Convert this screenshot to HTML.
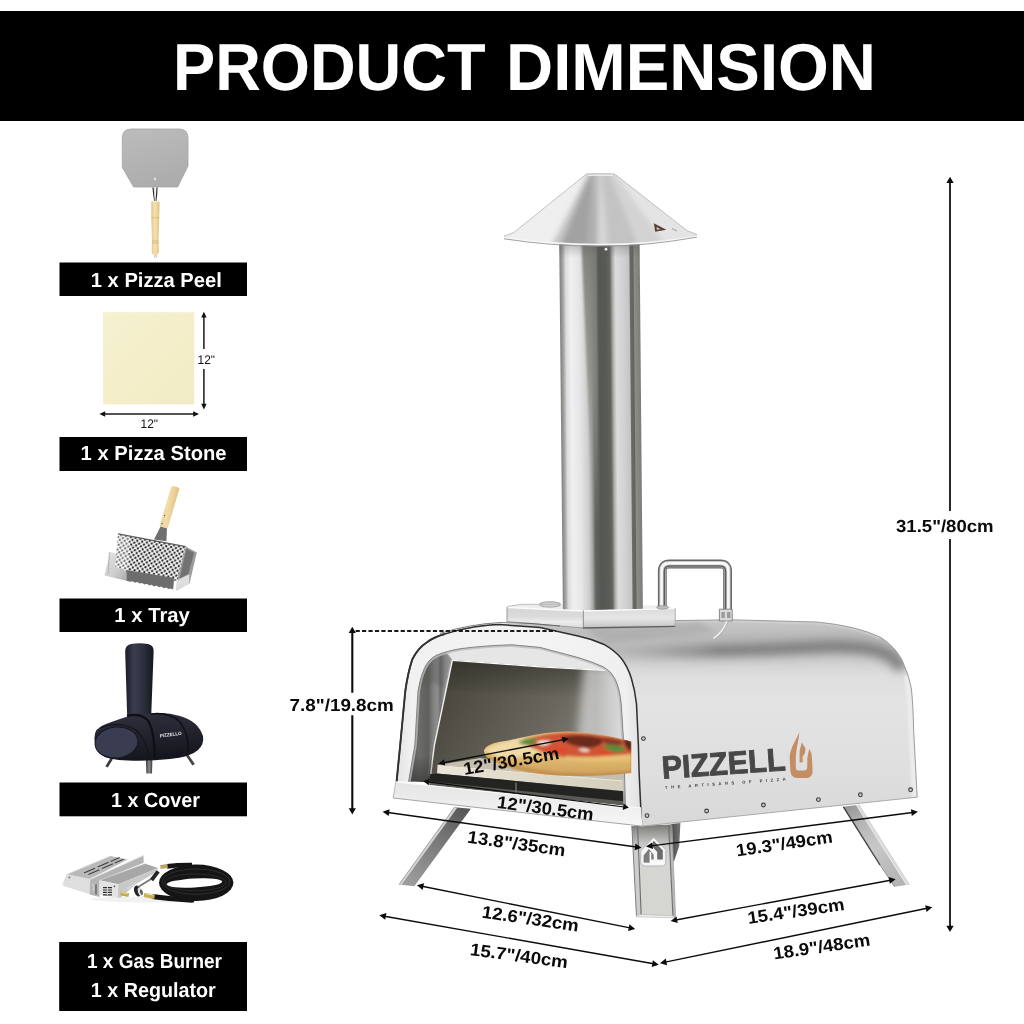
<!DOCTYPE html>
<html lang="en"><head><meta charset="utf-8"><title>Product Dimension</title>
<style>
html,body{margin:0;padding:0;background:#fff;width:1024px;height:1024px;overflow:hidden}
svg{display:block;position:absolute;left:0;top:0;will-change:transform}
text{font-family:"Liberation Sans",sans-serif;font-weight:bold;text-rendering:geometricPrecision}
.lbl{fill:#fff;font-size:20.5px;text-anchor:middle}
.dim{fill:#0a0a0a}
.thin{font-weight:normal;fill:#111;font-size:12.5px}
</style></head><body>
<svg width="1024" height="1024" viewBox="0 0 1024 1024">
<defs>
<linearGradient id="gPeel" x1="0" y1="0" x2="0.3" y2="1"><stop offset="0" stop-color="#bcbcbc"/><stop offset="1" stop-color="#adadad"/></linearGradient>
<linearGradient id="gWood" x1="0" y1="0" x2="1" y2="0"><stop offset="0" stop-color="#e4c78a"/><stop offset="0.45" stop-color="#f4e2b2"/><stop offset="1" stop-color="#e3c282"/></linearGradient>
<linearGradient id="gWood2" x1="0" y1="0" x2="1" y2="0.3"><stop offset="0" stop-color="#e2c283"/><stop offset="0.5" stop-color="#f2dcaa"/><stop offset="1" stop-color="#e0bd7c"/></linearGradient>
<linearGradient id="gStone" x1="0" y1="0" x2="1" y2="1"><stop offset="0" stop-color="#f6f1d0"/><stop offset="1" stop-color="#f2ebc4"/></linearGradient>
<pattern id="pDots" width="4.9" height="4.9" patternUnits="userSpaceOnUse" patternTransform="rotate(10.7) skewX(-4)"><circle cx="1.22" cy="1.22" r="1.12" fill="#151515"/><circle cx="3.67" cy="3.67" r="1.12" fill="#151515"/></pattern>
<linearGradient id="gCLeg" x1="0" y1="0" x2="1" y2="0"><stop offset="0" stop-color="#333"/><stop offset="0.5" stop-color="#8a8a8a"/><stop offset="1" stop-color="#3c3c3c"/></linearGradient>
<linearGradient id="gCov1" x1="0" y1="0" x2="1" y2="0"><stop offset="0" stop-color="#1b1c26"/><stop offset="0.3" stop-color="#3a3d4e"/><stop offset="0.7" stop-color="#2a2c3a"/><stop offset="1" stop-color="#14151c"/></linearGradient>
<linearGradient id="gCov2" x1="0" y1="0" x2="0.2" y2="1"><stop offset="0" stop-color="#30323f"/><stop offset="0.5" stop-color="#23242f"/><stop offset="1" stop-color="#15161d"/></linearGradient>
<linearGradient id="gTrayLip" x1="0" y1="0" x2="1" y2="1"><stop offset="0" stop-color="#e6e6e6"/><stop offset="0.6" stop-color="#cdcdcd"/><stop offset="1" stop-color="#ababab"/></linearGradient>
<linearGradient id="gCap" gradientUnits="userSpaceOnUse" x1="504" y1="0" x2="697" y2="0">
<stop offset="0" stop-color="#d4d4d4"/><stop offset="0.08" stop-color="#cdcdcd"/><stop offset="0.3" stop-color="#adadad"/><stop offset="0.41" stop-color="#b6b6b6"/><stop offset="0.5" stop-color="#ececec"/><stop offset="0.6" stop-color="#dedede"/><stop offset="0.75" stop-color="#cfcfcf"/><stop offset="1" stop-color="#dadada"/></linearGradient>
<linearGradient id="gCapV" x1="0" y1="0" x2="0" y2="1"><stop offset="0" stop-color="#fff" stop-opacity="0.25"/><stop offset="0.7" stop-color="#fff" stop-opacity="0"/><stop offset="1" stop-color="#fff" stop-opacity="0.45"/></linearGradient>
<linearGradient id="gBodyV" gradientUnits="userSpaceOnUse" x1="0" y1="620" x2="0" y2="826">
<stop offset="0" stop-color="#c6c6c6"/><stop offset="0.08" stop-color="#bcbcbc"/><stop offset="0.2" stop-color="#cfcfcf"/><stop offset="0.27" stop-color="#dedede"/><stop offset="0.4" stop-color="#e3e3e3"/><stop offset="0.75" stop-color="#dedede"/><stop offset="1" stop-color="#d8d8d8"/></linearGradient>
<linearGradient id="gBodyH" gradientUnits="userSpaceOnUse" x1="640" y1="0" x2="917" y2="0">
<stop offset="0" stop-color="#fff" stop-opacity="0.25"/><stop offset="0.3" stop-color="#fff" stop-opacity="0.1"/><stop offset="0.8" stop-color="#000" stop-opacity="0"/><stop offset="0.9" stop-color="#000" stop-opacity="0.1"/><stop offset="1" stop-color="#000" stop-opacity="0.16"/></linearGradient>
<linearGradient id="gBack" gradientUnits="userSpaceOnUse" x1="440" y1="665" x2="600" y2="760">
<stop offset="0" stop-color="#444238"/><stop offset="0.3" stop-color="#56544a"/><stop offset="0.65" stop-color="#6a685e"/><stop offset="1" stop-color="#858480"/></linearGradient>
<linearGradient id="gRWall" gradientUnits="userSpaceOnUse" x1="596" y1="0" x2="624" y2="0">
<stop offset="0" stop-color="#c8c8c8" stop-opacity="0"/><stop offset="0.5" stop-color="#cfcfcf" stop-opacity="0.9"/><stop offset="1" stop-color="#dddddd"/></linearGradient>
<linearGradient id="gLWall" gradientUnits="userSpaceOnUse" x1="412" y1="0" x2="448" y2="0">
<stop offset="0" stop-color="#626260"/><stop offset="0.2" stop-color="#6b6b69"/><stop offset="0.45" stop-color="#5f5e5a"/><stop offset="0.6" stop-color="#828281"/><stop offset="0.7" stop-color="#8e8e8e"/><stop offset="0.8" stop-color="#6c6c6a"/><stop offset="0.92" stop-color="#9c9c9c"/><stop offset="1" stop-color="#a8a8a8"/></linearGradient>
<linearGradient id="gArch" gradientUnits="userSpaceOnUse" x1="397" y1="0" x2="640" y2="0">
<stop offset="0" stop-color="#e4e4e4"/><stop offset="0.06" stop-color="#f1f1f1"/><stop offset="0.6" stop-color="#f4f4f4"/><stop offset="0.94" stop-color="#efefef"/><stop offset="1" stop-color="#e2e2e2"/></linearGradient>
<linearGradient id="gLeg" x1="0" y1="0" x2="1" y2="0"><stop offset="0" stop-color="#dcdcdc"/><stop offset="0.25" stop-color="#cfcfcf"/><stop offset="0.3" stop-color="#6d6d6d"/><stop offset="1" stop-color="#5e5e5e"/></linearGradient>
<linearGradient id="gLegR" gradientUnits="userSpaceOnUse" x1="850" y1="806" x2="900" y2="886"><stop offset="0" stop-color="#979797"/><stop offset="0.2" stop-color="#b4b4b4"/><stop offset="0.5" stop-color="#c8c8c8"/><stop offset="1" stop-color="#b2b2b2"/></linearGradient>
<linearGradient id="gLegL" gradientUnits="userSpaceOnUse" x1="462" y1="808" x2="407" y2="885"><stop offset="0" stop-color="#585858"/><stop offset="0.35" stop-color="#747474"/><stop offset="1" stop-color="#9e9e9e"/></linearGradient>
<linearGradient id="gLegC" gradientUnits="userSpaceOnUse" x1="632" y1="0" x2="676" y2="0"><stop offset="0" stop-color="#bdbdbd"/><stop offset="0.12" stop-color="#e3e3e3"/><stop offset="0.16" stop-color="#cfcfcf"/><stop offset="0.85" stop-color="#d4d4d4"/><stop offset="0.9" stop-color="#b0b0b0"/><stop offset="1" stop-color="#d9d9d9"/></linearGradient>
<linearGradient id="gCrust" x1="0" y1="0" x2="0" y2="1"><stop offset="0" stop-color="#e9c98a"/><stop offset="0.6" stop-color="#e0b870"/><stop offset="1" stop-color="#c99a55"/></linearGradient>
<linearGradient id="gPlate" gradientUnits="userSpaceOnUse" x1="507" y1="0" x2="676" y2="0"><stop offset="0" stop-color="#dedede"/><stop offset="0.44" stop-color="#f0f0f0"/><stop offset="0.455" stop-color="#bdbdbd"/><stop offset="0.47" stop-color="#e9e9e9"/><stop offset="1" stop-color="#dcdcdc"/></linearGradient>
<linearGradient id="gPipe" gradientUnits="userSpaceOnUse" x1="557.2" y1="0" x2="637.4" y2="0" gradientTransform="matrix(1 0 0.009 1 0 0)">
<stop offset="0" stop-color="#7f7f7b"/><stop offset="0.042" stop-color="#a8a8a6"/><stop offset="0.074" stop-color="#dcdcdc"/><stop offset="0.136" stop-color="#f0f0f0"/><stop offset="0.236" stop-color="#e6e6e6"/><stop offset="0.335" stop-color="#cdcdcd"/><stop offset="0.379" stop-color="#a5a5a3"/><stop offset="0.416" stop-color="#62645f"/><stop offset="0.485" stop-color="#555752"/><stop offset="0.572" stop-color="#585a55"/><stop offset="0.622" stop-color="#62645f"/><stop offset="0.66" stop-color="#b0b0ae"/><stop offset="0.697" stop-color="#dcdcdc"/><stop offset="0.784" stop-color="#d2d2d2"/><stop offset="0.865" stop-color="#c4c4c4"/><stop offset="0.878" stop-color="#6a6a66"/><stop offset="0.915" stop-color="#62625e"/><stop offset="0.928" stop-color="#8c8c88"/><stop offset="1" stop-color="#7c7c78"/></linearGradient>
<linearGradient id="gPipeL" x1="0" y1="0" x2="1" y2="0"><stop offset="0" stop-color="#8f8f8f"/><stop offset="0.35" stop-color="#a9a9a9" stop-opacity="0.8"/><stop offset="1" stop-color="#cfcfcf" stop-opacity="0"/></linearGradient>
<linearGradient id="gPipeR" x1="0" y1="0" x2="1" y2="0"><stop offset="0" stop-color="#d0d0d0" stop-opacity="0"/><stop offset="0.16" stop-color="#8a8a8a"/><stop offset="0.34" stop-color="#7e7e7e"/><stop offset="0.5" stop-color="#9c9c9c"/><stop offset="0.85" stop-color="#a2a2a2"/><stop offset="1" stop-color="#8a8a8a"/></linearGradient>
<linearGradient id="gPipeTop" x1="0" y1="0" x2="0" y2="1"><stop offset="0" stop-color="#555" stop-opacity="0.35"/><stop offset="1" stop-color="#555" stop-opacity="0"/></linearGradient>
<filter id="fBlur3" x="-10%" y="-10%" width="120%" height="120%"><feGaussianBlur stdDeviation="2.6"/></filter>
<filter id="fBlur2" x="-10%" y="-10%" width="120%" height="120%"><feGaussianBlur stdDeviation="1.6"/></filter>
<filter id="fBlur5" x="-20%" y="-20%" width="140%" height="140%"><feGaussianBlur stdDeviation="5"/></filter>
<linearGradient id="gPlateF" x1="0" y1="0" x2="0" y2="1"><stop offset="0" stop-color="#d6d6d6"/><stop offset="0.45" stop-color="#dadada"/><stop offset="0.7" stop-color="#ececec"/><stop offset="1" stop-color="#dcdcdc"/></linearGradient>
<linearGradient id="gPlateS" x1="0" y1="0" x2="0" y2="1"><stop offset="0" stop-color="#dadada"/><stop offset="0.5" stop-color="#e6e6e6"/><stop offset="0.8" stop-color="#d2d2d2"/><stop offset="1" stop-color="#bcbcbc"/></linearGradient>
<linearGradient id="gRail" x1="0" y1="0" x2="0" y2="1"><stop offset="0" stop-color="#e4e4e4"/><stop offset="0.5" stop-color="#eeeeee"/><stop offset="1" stop-color="#f6f6f6"/></linearGradient>
<linearGradient id="gLegShade" x1="0" y1="0" x2="0" y2="1"><stop offset="0" stop-color="#5f5f5f" stop-opacity="0.8"/><stop offset="0.5" stop-color="#808080" stop-opacity="0.45"/><stop offset="1" stop-color="#aaa" stop-opacity="0"/></linearGradient>
<linearGradient id="gLegBack" x1="0" y1="0" x2="1" y2="0"><stop offset="0" stop-color="#484848"/><stop offset="1" stop-color="#767676"/></linearGradient>
<linearGradient id="gPipeMid" gradientUnits="userSpaceOnUse" x1="0" y1="243" x2="0" y2="530"><stop offset="0" stop-color="#7c7e78" stop-opacity="0.95"/><stop offset="0.45" stop-color="#8c8e88" stop-opacity="0.8"/><stop offset="1" stop-color="#a0a29c" stop-opacity="0"/></linearGradient>
<filter id="fBlur1" x="-20%" y="-20%" width="140%" height="140%"><feGaussianBlur stdDeviation="1"/></filter>
<filter id="fBlur6" x="-20%" y="-100%" width="140%" height="300%"><feGaussianBlur stdDeviation="6"/></filter>
<filter id="fBlur8" x="-40%" y="-60%" width="180%" height="220%"><feGaussianBlur stdDeviation="8"/></filter>
<linearGradient id="gBackTop" gradientUnits="userSpaceOnUse" x1="0" y1="662" x2="0" y2="698"><stop offset="0" stop-color="#2a2923" stop-opacity="0.55"/><stop offset="1" stop-color="#2a2923" stop-opacity="0"/></linearGradient>
<filter id="fBodyBlur" filterUnits="userSpaceOnUse" x="600" y="590" width="340" height="140"><feGaussianBlur stdDeviation="5"/></filter>
<linearGradient id="gStoneF" gradientUnits="userSpaceOnUse" x1="437" y1="0" x2="625" y2="0"><stop offset="0" stop-color="#ebe7da"/><stop offset="0.4" stop-color="#e0dbcb"/><stop offset="1" stop-color="#d3cdbc"/></linearGradient>
<linearGradient id="gLWallBot" gradientUnits="userSpaceOnUse" x1="0" y1="755" x2="0" y2="782"><stop offset="0" stop-color="#2e2e2c" stop-opacity="0"/><stop offset="1" stop-color="#2e2e2c" stop-opacity="0.6"/></linearGradient>
<linearGradient id="gBandStroke" gradientUnits="userSpaceOnUse" x1="620" y1="0" x2="720" y2="0"><stop offset="0" stop-color="#a4a4a4" stop-opacity="0.5"/><stop offset="1" stop-color="#7c7c7c" stop-opacity="1"/></linearGradient>

</defs>
<rect width="1024" height="1024" fill="#fff"/>
<!-- title band -->
<rect x="0" y="11" width="1024" height="110" fill="#000"/>
<text x="173" y="90.2" font-size="66.4" fill="#fff" textLength="312.5" lengthAdjust="spacingAndGlyphs">PRODUCT</text>
<text x="506" y="90.2" font-size="66.4" fill="#fff" textLength="370" lengthAdjust="spacingAndGlyphs">DIMENSION</text>

<!-- label bars -->
<g id="bars">
<rect x="59.5" y="262.5" width="187.5" height="33.5" fill="#000"/>
<text class="lbl" x="156.3" y="287" textLength="131" lengthAdjust="spacingAndGlyphs">1 x Pizza Peel</text>
<rect x="59.5" y="437" width="187.5" height="34" fill="#000"/>
<text class="lbl" x="153.6" y="460.2" textLength="146" lengthAdjust="spacingAndGlyphs">1 x Pizza Stone</text>
<rect x="59.5" y="598.5" width="187.5" height="33.5" fill="#000"/>
<text class="lbl" x="152.1" y="622" textLength="75.5" lengthAdjust="spacingAndGlyphs">1 x Tray</text>
<rect x="59.5" y="782.5" width="187.5" height="33.8" fill="#000"/>
<text class="lbl" x="155.5" y="807" textLength="89" lengthAdjust="spacingAndGlyphs">1 x Cover</text>
<rect x="59.2" y="942" width="187.8" height="69" fill="#000"/>
<text class="lbl" x="154.5" y="968" textLength="135" lengthAdjust="spacingAndGlyphs">1 x Gas Burner</text>
<text class="lbl" x="153.3" y="997" textLength="125" lengthAdjust="spacingAndGlyphs">1 x Regulator</text>
</g>

<!-- ===== accessories ===== -->
<g id="peel">
<path d="M131.3,129 H179 Q188,129 188,138 V166 L177.7,187 H133.6 L122.3,167.4 V138 Q122.3,129 131.3,129 Z" fill="url(#gPeel)" stroke="#a2a2a2" stroke-width="0.8"/>
<circle cx="155" cy="179" r="1.2" fill="#e6e6e6"/>
<path d="M153,187.5 Q153.6,195 154.8,201 M157,187.5 Q156.8,195 155.8,201" stroke="#2e2e2e" stroke-width="1.2" fill="none"/>
<path d="M154.6,188 L155.2,201" stroke="#d8d8d8" stroke-width="1" fill="none"/>
<path d="M151.2,202.5 Q151.2,201.5 152.2,201.5 H158.4 Q159.6,201.5 159.6,202.8 L159.2,218 L158.6,240 L158.9,252 Q158.5,255 155.2,255 Q152,255 151.6,252 L152,240 L151.3,218 Z" fill="url(#gWood)"/>
<path d="M151.4,217.8 H159.3 M151.9,241 H158.7 M152,243 H158.7" stroke="#cfa968" stroke-width="0.6" fill="none"/>
<circle cx="155.6" cy="256.4" r="1.2" fill="none" stroke="#999" stroke-width="0.6"/>
</g>

<g id="stone">
<rect x="103" y="312.2" width="91.2" height="92.2" fill="url(#gStone)"/>
<g stroke="#1a1a1a" stroke-width="1.5" fill="none">
<path d="M203.9,315 V349 M203.9,369 V406"/>
<path d="M103,414 H195.5"/>
</g>
<path d="M203.9,311.8 L206.6,317.6 H201.2 Z M203.9,409.6 L206.6,403.8 H201.2 Z M99.4,414 L105.2,411.3 V416.7 Z M199,414 L193.2,411.3 V416.7 Z" fill="#111"/>
<text class="thin" x="197.6" y="364.4" textLength="17.4" lengthAdjust="spacingAndGlyphs">12"</text>
<text class="thin" x="140.6" y="428" textLength="17.4" lengthAdjust="spacingAndGlyphs">12"</text>
</g>

<g id="tray">
<!-- handle -->
<path d="M171.2,486.4 Q175.6,485.4 179.6,488.2 L167.6,528.6 L159.6,526.2 Z" fill="url(#gWood2)"/>
<circle cx="164.6" cy="515.6" r="0.7" fill="#5a4a2a"/><circle cx="162.2" cy="523.6" r="0.7" fill="#5a4a2a"/>
<path d="M160.6,526.6 L167,528.6 L166.4,541.2 L154,539.6 Z" fill="#6f6f6f"/>
<!-- right side wall -->
<path d="M185.8,546.6 L196.8,552.4 L189.6,583.2 L176.4,590.4 L177.6,576.6 Z" fill="#9c9c9c"/>
<path d="M186.4,548.6 L194,553 L188.4,574 L179.6,578.6 Z" fill="#727272"/>
<path d="M176.6,580.4 L189.4,574.2 L189.2,583.4 L176.2,590.4 Z" fill="#dedede"/>
<!-- left lip -->
<path d="M110,552 L116.4,554 L115.4,566.4 L126.4,570.4 L126.4,580.7 L104.4,575.6 Z" fill="url(#gTrayLip)"/>
<path d="M110,552 l-1.2,2.2 l1.2,0.9 l-1.4,2.4 l1.2,0.9 l-1.4,2.4 l1.2,0.9 l-1.4,2.4 l1.2,0.9 l-1.4,2.4 l1.2,0.9 l-1.4,2.4 l1.2,0.9 l-1.6,2.6" stroke="#a2a2a2" stroke-width="0.8" fill="none"/>
<!-- perforated plate -->
<path d="M118,533.8 L185.8,546.6 L177,581 L127,571.8 L115.2,566.2 Z" fill="#f7f7f7"/>
<path d="M118,533.8 L185.8,546.6 L177,581 L127,571.8 L115.2,566.2 Z" fill="url(#pDots)"/>
<path d="M118,533.8 L130,536 L128,571.8 L115.2,566.2 Z" fill="#fff" opacity="0.35"/>
<path d="M118,533.8 L185.8,546.6" stroke="#5e5e5e" stroke-width="1.3" fill="none"/>
<!-- dark band -->
<path d="M126.4,570 L173.4,577.8 L174,580 L173.2,589.6 L170.8,588.4 L168.6,589 L166,587.4 L163.8,588.2 L161.2,586.6 L159,587.2 L156.4,585.6 L154.2,586.4 L151.6,584.8 L149.4,585.4 L146.8,583.8 L144.6,584.6 L142,583 L139.8,583.6 L137.2,582 L135,582.8 L132.4,581.2 L130.2,581.8 L126.4,580.7 Z" fill="#6d6d6d"/>
</g>

<g id="cover">
<!-- legs -->
<path d="M110.4,758 L112.8,759.4 L107.8,767.4 L105.4,766.2 Z" fill="#3c3c3c"/>
<path d="M145.8,758 H152.4 L152,773.6 H146.4 Z" fill="url(#gCLeg)"/>
<path d="M186,756 L188.6,755 L194.8,764 L192.4,765.4 Z" fill="#444"/>
<!-- chimney -->
<path d="M125.2,652 Q125,645 131,644 Q139,642.4 148,644 Q154,645 153.6,652 L151.2,716 L127.2,718 Z" fill="url(#gCov1)"/>
<!-- body -->
<path d="M94.4,738 Q94,728 106,724 Q120,719 128,716.6 L150,713.6 Q166,711.6 180,716 Q198,721 203,736 Q204.4,744 198,750 Q190,757.4 170,759 Q150,761.4 128,760.6 Q108,760 100,754 Q94.6,749 94.4,738 Z" fill="url(#gCov2)"/>
<ellipse cx="116.5" cy="742.5" rx="21.5" ry="15.5" transform="rotate(-6 116.5 742.5)" fill="#3a3d52" stroke="#15161e" stroke-width="1"/>
<path d="M127,716 Q142,712 149,722 Q155,735 154.6,759" stroke="#0e0f15" stroke-width="2.2" fill="none"/>
<path d="M151,714 Q170,712 180,722 Q190,736 188,753" stroke="#101118" stroke-width="1.6" fill="none"/>
<path d="M100,728 Q118,720 136,730 Q148,742 150,760" stroke="#14151d" stroke-width="1.2" fill="none"/>
<text x="160" y="737.4" font-size="4.6" fill="#e8e8e8" textLength="22" lengthAdjust="spacingAndGlyphs" transform="rotate(-7 160 737)">PIZZELLO</text>
</g>

<g id="burner">
<ellipse cx="150" cy="899.4" rx="60" ry="3" fill="#f1f1f1"/>
<!-- hose -->
<ellipse cx="196.2" cy="882.8" rx="37.2" ry="18.2" fill="#151515"/>
<ellipse cx="194.4" cy="883" rx="27.8" ry="4.5" transform="rotate(-3 194.4 883)" fill="#fff"/>
<ellipse cx="196" cy="881.6" rx="33.6" ry="12.6" fill="none" stroke="#3a3a3a" stroke-width="0.7"/>
<ellipse cx="195.4" cy="882.4" rx="30.6" ry="8.4" fill="none" stroke="#333" stroke-width="0.7"/>
<path d="M154,896.8 Q172,899.4 192,900.2" stroke="#151515" stroke-width="5.2" fill="none" stroke-linecap="round"/>
<path d="M167,866.4 Q178,864.8 192,865" stroke="#151515" stroke-width="4.6" fill="none"/>
<path d="M144,894.8 L154.6,896.8" stroke="#c8ad5a" stroke-width="4.4" fill="none"/>
<path d="M146,893.6 L153,895" stroke="#efe3a8" stroke-width="1.2" fill="none"/>
<path d="M160.4,866.9 L167.6,866" stroke="#b9a566" stroke-width="4" fill="none"/>
<!-- left vent box -->
<path d="M62.6,883.7 L66.7,874.3 L90.2,879 L89.6,894.2 L63.8,886 Z" fill="#dedede"/>
<path d="M66.7,874.3 L110.1,856.1 L127.7,859.6 L90.2,879 Z" fill="#b9b9b9"/>
<path d="M66.7,874.3 L110.1,856.1" stroke="#e4e4e4" stroke-width="0.9" fill="none"/>
<path d="M84,873 l11,-4.8 M88.4,874.6 l11,-4.8 M97.6,867 l11,-4.8 M102,868.6 l11,-4.8 M110.6,861.4 l9,-3.8 M114.6,863 l9,-3.8" stroke="#3e3e3e" stroke-width="1.1" fill="none"/>
<circle cx="69.4" cy="877.4" r="0.9" fill="#6d6d6d"/>
<!-- flange -->
<path d="M90.2,879 L143.5,855.3 L143.7,862.8 L99.5,880.4 L99.5,897 L89.6,894.4 Z" fill="#b4b4b4"/>
<path d="M90.2,879 L143.5,855.3" stroke="#ececec" stroke-width="1.2" fill="none"/>
<path d="M96,884.6 V894.4" stroke="#4d4d4d" stroke-width="1.1" fill="none"/>
<path d="M92.4,884 l1.6,3.6 l-1.2,3" stroke="#e6e6e6" stroke-width="0.8" fill="none"/>
<!-- right box -->
<path d="M99.5,880.2 L145.2,863.8 L158.1,867.9 L118.3,884.3 Z" fill="#a7a7a7"/>
<path d="M99.5,880.2 L145.2,863.8" stroke="#c9c9c9" stroke-width="0.8" fill="none"/>
<path d="M99.5,880.2 L118.3,884.3 L117.7,897.7 L99.5,894.8 Z" fill="#e3e3e3"/>
<path d="M118.3,884.3 L158.1,867.9 L155.8,872.6 L136,884 L120.6,897.7 L117.7,897.7 Z" fill="#c9c9c9"/>
<path d="M103,887.6 h9 M103,890 h9 M103,892.4 h9 M103,894.8 h9" stroke="#2d2d2d" stroke-width="1.2" fill="none"/>
<path d="M107.4,887 v8.4" stroke="#e3e3e3" stroke-width="0.9"/>
<circle cx="114.4" cy="886.4" r="0.8" fill="#4a4a4a"/>
<!-- valve / fittings -->
<path d="M120.6,893.4 L128.8,895.2" stroke="#c6a752" stroke-width="3.8" fill="none"/>
<path d="M121.6,892.4 L127.6,893.8" stroke="#efe0a0" stroke-width="1" fill="none"/>
<path d="M127,889 L137,882.6" stroke="#d5d5d5" stroke-width="2" fill="none"/>
<ellipse cx="137.6" cy="891" rx="3.4" ry="5.6" transform="rotate(-18 137.6 891)" fill="#242424"/>
<ellipse cx="140.4" cy="891.8" rx="2.4" ry="4.4" transform="rotate(-18 140.4 891.8)" fill="#dedede"/>
<ellipse cx="141.4" cy="892.2" rx="1.3" ry="2.8" transform="rotate(-18 141.4 892.2)" fill="#5a5a5a"/>
<path d="M138,887 L152,878.4" stroke="#777" stroke-width="1.8" fill="none"/>
<path d="M151.6,880 L158.2,871.4" stroke="#262626" stroke-width="3.8" fill="none"/>
</g>


<!-- ===== oven ===== -->
<g id="oven">
<!-- back legs first -->
<path d="M843.2,806.7 L859.3,804.8 L909.6,884.4 L894.5,886.8 Z" fill="url(#gLegR)"/>
<path d="M856.4,805.2 L859.3,804.8 L909.6,884.4 L906.6,885 Z" fill="#dadada"/>
<path d="M856.4,805.2 L906.6,885" stroke="#f4f4f4" stroke-width="0.8" fill="none"/>
<path d="M843.4,806.9 L880,865" stroke="#3f3f3f" stroke-width="1.4" fill="none"/>
<path d="M880,865 L894.6,886.6" stroke="#8a8a8a" stroke-width="1" fill="none"/>
<path d="M454.8,807.2 L470.9,808.7 L414.3,886.3 L399.2,884.4 Z" fill="url(#gLegL)"/>
<path d="M454.8,807.2 L457.4,807.4 L401.6,884.8 L399.2,884.4 Z" fill="#d4d4d4"/>
<path d="M454.6,807.2 L399,884.4" stroke="#8c8c8c" stroke-width="0.7" fill="none"/>
<!-- centre leg -->
<path d="M671,824 L680.4,823 L679.2,846 L674,861.4 L672,861 Z" fill="url(#gLegBack)"/>
<path d="M631.7,826 L637.6,826 L641.2,916 L636.3,916.4 Z" fill="#cdcdcd"/>
<path d="M637.6,826 L668.6,825 L673,917.2 L641.2,916 Z" fill="#d5d5d2"/>
<path d="M668.6,825 L671.8,824.6 L675.6,917.8 L673,917.2 Z" fill="#b9b9b9"/>
<path d="M631.7,826 L671.8,824.6 L672.8,850 L632.8,851 Z" fill="url(#gLegShade)"/>
<path d="M631.9,826 L636.5,916.4" stroke="#808080" stroke-width="1" fill="none"/>
<path d="M637.6,826 L641.2,916" stroke="#6c6c6c" stroke-width="1.1" fill="none"/>
<path d="M668.6,825 L673,917.2" stroke="#6e6e6e" stroke-width="1.1" fill="none"/>
<path d="M671.8,824.6 L675.6,917.8" stroke="#a5a5a5" stroke-width="0.8" fill="none"/>
<path d="M636.4,915.4 L641.2,914.6 L673,915.8 L675.6,917.8 L636.3,916.8 Z" fill="#f2f2f2" stroke="#b0b0b0" stroke-width="0.6"/>
<path d="M653.6,837.2 L665.8,849.6 L665.8,861.4 Q665.6,865.8 662,866 L646,866 Q640.8,865.8 640.7,861.4 L640.7,851 Z" fill="#f5f5f5" stroke="#a6a6a6" stroke-width="0.7"/>
<path d="M653.8,840.8 L662.8,850.4 L662.8,859.6 L657.2,859.6 L657.2,852 L651.2,845.4 Z" fill="#6c6c6c"/>
<path d="M643.6,855.6 L648.8,849 L653.6,854.4 L653.8,859.4 L650.4,859.4 L650.4,862.8 L643.6,862.6 Z" fill="#7d7d7d"/>
<path d="M650.4,852 L650.4,862.8 L662.8,863" stroke="#fdfdfd" stroke-width="1.6" fill="none"/>

<!-- body side + top -->
<clipPath id="cBody"><path d="M499,624.4 L675,620.6 L731,619.8 L817,622 Q858,626 881,637.6 Q895,646.6 902,660 Q909,675 911.3,688 Q913.2,705 913.6,729 L917.2,797.2 L641.4,826.2 L639.4,806 L638.4,740 Q637.6,700 631.4,678.6 Q624,660 603.6,644.2 Q584,636 540,627.8 Z"/></clipPath>
<path d="M499,624.4 L675,620.6 L731,619.8 L817,622 Q858,626 881,637.6 Q895,646.6 902,660 Q909,675 911.3,688 Q913.2,705 913.6,729 L917.2,797.2 L641.4,826.2 L639.4,806 L638.4,740 Q637.6,700 631.4,678.6 Q624,660 603.6,644.2 Q584,636 540,627.8 Z" fill="url(#gBodyV)"/>
<g clip-path="url(#cBody)">
<path d="M585,652 L700,651 L770,649 L830,646.6 Q866,645.6 886,653.4 Q897,659 902,669" stroke="url(#gBandStroke)" stroke-width="13" fill="none" filter="url(#fBodyBlur)" opacity="0.95"/>
<path d="M640,621.4 L731,620.6 L817,622.8 Q858,627 880,638" stroke="#d6d6d6" stroke-width="2" fill="none" filter="url(#fBlur1)"/>
<path d="M906,676 Q909.6,690 911,729 L914.6,797" stroke="#ececec" stroke-width="5" fill="none" filter="url(#fBlur1)"/>
</g>
<path d="M675,620.6 L731,619.8 L817,622 Q858,626 881,637.6 Q895,646.6 902,660 Q909,675 911.3,688 Q913.2,705 913.6,729 L917.2,797.2" stroke="#959595" stroke-width="0.9" fill="none"/>
<path d="M917.2,797.2 L641.4,826.2" stroke="#a9a9a9" stroke-width="1" fill="none"/>
<!-- shadow below plate on body -->
<path d="M583,626 L676,623.6 L700,622 L716,632 Q660,638 606,644 Z" fill="#a8a8a8" opacity="0.6" filter="url(#fBlur3)"/>


<!-- base plate top face -->
<path d="M507,607 L583,610.6 L675.4,608.2 L660,605.6 L520,604.6 Z" fill="#ededed"/>
<ellipse cx="550" cy="604.4" rx="10.8" ry="2.7" fill="#d2d2d2" stroke="#959595" stroke-width="0.8"/>
<!-- chimney pipe -->
<path d="M559.2,242 L639.6,242 L642.9,610 L562.9,610 Z" fill="url(#gPipe)"/>
<path d="M581.6,243 L596.6,243 L599,530 L593.4,530 Z" fill="url(#gPipeMid)" filter="url(#fBlur1)"/>
<path d="M559.2,242 L639.6,242 L639.8,258 L559.4,258 Z" fill="url(#gPipeTop)"/>
<circle cx="606" cy="249.2" r="1.9" fill="#ececec" stroke="#5a5a5a" stroke-width="0.8"/>
<!-- cap -->
<clipPath id="cCap"><path d="M503.8,236.4 L514,232.4 L585.4,174.8 Q586.6,173.8 588.4,173.8 H612.6 Q614.4,173.8 615.6,174.8 L687,230.6 L697.2,234.6 Q697.6,236.6 694,238 Q642,246 598,245.6 Q552,245.2 508,239.8 Q503.6,238.6 503.8,236.4 Z"/></clipPath>
<g clip-path="url(#cCap)">
<g filter="url(#fBlur3)">
<rect x="480" y="150" width="240" height="110" fill="#c4c4c4"/>
<path d="M593,164 L470,262 L543,262 Z" fill="#efefef"/>
<path d="M593,164 L543,262 L554,262 Z" fill="#c6c6c6"/>
<path d="M594,164 L554,262 L586,262 Z" fill="#a2a2a2"/>
<path d="M596,162 L586,262 L597,262 Z" fill="#aeaeae"/>
<path d="M600,160 L597,262 L610,262 Z" fill="#d6d6d6"/>
<path d="M602,160 L610,262 L644,262 Z" fill="#c3c3c3"/>
<path d="M604,160 L644,262 L678,262 Z" fill="#d3d3d3"/>
<path d="M606,162 L678,262 L740,262 Z" fill="#e4e4e4"/>
</g>
</g>
<path d="M504.6,238 Q552,244.6 598,244.6 Q646,244.8 696,236.8" stroke="#f6f6f6" stroke-width="1.8" fill="none"/>
<path d="M504,238.8 Q552,246.2 598,246.2 Q646,246.4 696.8,237.2" stroke="#8e8e8e" stroke-width="0.8" fill="none"/>
<path d="M503.8,236.4 L514,232.4 L585.4,174.8 Q586.6,173.8 588.4,173.8 H612.6 Q614.4,173.8 615.6,174.8 L687,230.6 L697.2,234.6" stroke="#b4b4b4" stroke-width="0.8" fill="none"/>
<path d="M588,175.2 H613" stroke="#f4f4f4" stroke-width="1.2" fill="none"/>
<path d="M653.8,223.2 L655.2,231.8 L666.4,229.8 Z" fill="#5a4038"/>
<path d="M656.4,227 l0.6,2.8 l3.6,-0.6 Z" fill="#d9d0cc"/>
<path d="M672,228.6 l5,2.4" stroke="#a0a0a0" stroke-width="1"/>

<!-- base plate fronts -->
<path d="M507,607 L583,610.6 L583,628 L507,621.6 Z" fill="url(#gPlateF)"/>
<path d="M583,610.6 L675.4,608.2 L675.4,626.4 L583,628 Z" fill="url(#gPlateS)"/>
<path d="M507,607.4 L583,611 L675.4,608.6" stroke="#fbfbfb" stroke-width="1.4" fill="none"/>
<path d="M583.4,610.6 V628" stroke="#9c9c9c" stroke-width="1.2" fill="none"/>
<path d="M507,621.6 L583,628" stroke="#9a9a9a" stroke-width="1" fill="none"/>
<path d="M583,628 L675.4,626.4" stroke="#5e5e5e" stroke-width="1.3" fill="none"/>
<path d="M507,607 V621.6" stroke="#9c9c9c" stroke-width="1"/>
<path d="M507,606.6 L520,604.4 L560,604.2" stroke="#b0b0b0" stroke-width="0.8" fill="none"/>
<path d="M675.2,608.2 V626.4" stroke="#a9a9a9" stroke-width="0.9"/>
<!-- handle -->
<path d="M662.3,607.6 V571 Q662.3,564 669.3,564 H720.6 Q727.6,564 727.6,571 V611" stroke="#666" stroke-width="8.8" fill="none"/>
<path d="M662.5,607.6 V571 Q662.5,564.2 669.3,564.2 H720.6 Q727.4,564.2 727.4,571 V611" stroke="#cbcbcb" stroke-width="6.2" fill="none"/>
<path d="M661.6,607.6 V570.6 Q661.6,563.3 669,563.3 H721 Q728.3,563.3 728.3,570.6 V611" stroke="#fbfbfb" stroke-width="2.4" fill="none"/>
<path d="M664.3,607.6 V571.4 Q664.3,566 669.7,566 H720.2 Q725.6,566 725.6,571.4 V611" stroke="#5e5e5e" stroke-width="1.5" fill="none"/>
<ellipse cx="662.6" cy="607.4" rx="6" ry="1.8" fill="#bdbdbd" stroke="#8a8a8a" stroke-width="0.6"/>
<path d="M719.4,609.2 h12.8 v11.8 h-12.8 Z" fill="#d9d9d9" stroke="#7d7d7d" stroke-width="0.9"/>
<path d="M721.4,612 h3.4 v6 h-3.4 Z M727,612 h3.4 v6 h-3.4 Z" fill="#9a9a9a"/>

<path d="M727.4,621 Q725,631 713.4,639" stroke="#b5b5b5" stroke-width="2.6" fill="none"/>
<path d="M726.8,621 Q724.4,630.4 713.4,638.6" stroke="#f6f6f6" stroke-width="1.2" fill="none"/>

<!-- cavity -->
<path d="M414.8,781 L418,691 Q420.8,672 424.4,668.2 Q428,659 435.8,655.6 Q446,650.4 461.2,648.6 Q490,645.4 512,644.8 L540,647.4 L578,657.4 Q594,662 603.6,667 Q611,671.6 615,678.6 Q620,690 621.2,704 L623.8,745 L625.4,806 Z" fill="url(#gBack)"/>
<path d="M452.4,660 L540,666.4 L609.8,670.2 L612,700 L446,690 Z" fill="url(#gBackTop)"/>
<!-- soft light from right on back wall -->
<path d="M584,664 L614,668 L626,720 L626,800 L572,792 Z" fill="#cdcdcd" opacity="0.8" filter="url(#fBlur5)"/>
<!-- right inner wall -->
<path d="M596,669.2 L609.8,670.2 Q618,682 621.2,704 L623.8,745 L625.2,800 L600,790 Z" fill="url(#gRWall)"/>
<!-- ceiling -->
<path d="M435.8,655.6 Q446,650.4 461.2,648.6 Q490,645.4 512,644.8 L540,647.4 L578,657.4 Q594,662 603.6,667 L609.8,670.2 L540,666.4 L452.4,660 L436,668 Z" fill="#e6e6e6"/>
<path d="M452.4,660.4 L540,666.8 L609.8,670.6" stroke="#fafafa" stroke-width="1.2" fill="none"/>
<!-- left inner wall -->
<path d="M414.8,745 L418,691 Q420.8,672 424.4,668.2 Q428,659 435.8,655.6 L446,652 L452.4,660 L434.4,745 L429.6,781 L408.6,781 Z" fill="url(#gLWall)"/>
<path d="M418.6,688 Q421,672 425,668 Q429,660 436,656.4 L446,652.4 L451,659 L444,690 Q432,676 418.6,688 Z" fill="#555" opacity="0.35" filter="url(#fBlur2)"/>
<path d="M452.4,660 L434.4,745 L430.4,776" stroke="#f0f0f0" stroke-width="1.4" fill="none"/>
<path d="M449.6,661 L431.6,745 L428,776" stroke="#8b8b8b" stroke-width="0.8" fill="none" opacity="0.7"/>
<path d="M411,755 L434,755 L429.6,782 L408.6,782 Z" fill="url(#gLWallBot)"/>
<circle cx="453.4" cy="681.4" r="1.4" fill="#45433b"/><circle cx="439.8" cy="743.6" r="1.5" fill="#4f4d45"/>

<!-- stone -->
<path d="M437.6,765 L480,758 L625,772 L624.5,781 Z" fill="#c4bfb0"/>
<path d="M437.6,765.2 L624.5,781 L624.5,791.4 L437,773.6 Z" fill="url(#gStoneF)"/>
<path d="M437.6,765.4 L624.5,781.2" stroke="#ece6d4" stroke-width="1" fill="none"/>
<!-- dark gap below stone -->
<path d="M429.8,774.2 L437,773.4 L624.5,791.2 L625.4,806 L429.6,785.2 Z" fill="#232321"/>
<path d="M429.6,781.4 L625.4,801.6 L625.4,806 L429.6,785.4 Z" fill="#5a5a57"/>
<path d="M516,782.6 V794" stroke="#8a8a86" stroke-width="1.1"/>

<!-- arch frame -->
<path d="M396.6,781.6 L400.2,745 L405.3,691 Q408,672 412.3,659.4 Q418,648 426.9,642.3 Q434,637 444.7,634 Q458,629.6 473.9,627 Q488,624.8 499.3,624.5 L540,627.6 L578,636 Q592,639 603.5,644.2 Q614,650 621.2,658.2 Q628,667 631.4,678.5 Q635,690 636.5,703.9 L638.4,745 L640.2,808 L625.4,806.4 L623.8,745 L621.2,703.9 Q619.6,688 614.9,678.5 Q611,671 603.5,667 Q592,661.6 578,657.5 L540,647.4 L512,644.8 Q484,645.6 461.2,648.6 Q446,651 435.8,655.6 Q428,660 424.4,668.3 Q420,678 418,691 L414.8,745 L408.6,781.6 Z" fill="url(#gArch)"/>
<!-- arch inner-edge shading -->
<path d="M409.6,781.6 L415.8,745 L419,691 Q421,678 425.4,668.6 Q429,660.8 436.4,656.6 Q446,652 461.2,649.6 Q484,646.6 512,645.8 L540,648.4 L578,658.5 Q592,662.6 603,667.8 Q610,671.6 613.9,679 Q618.6,688 620.2,703.9 L622.8,745 L624.4,806" stroke="#bdbdbd" stroke-width="2.2" fill="none" opacity="0.8"/>
<path d="M396.6,781.6 L400.2,745 L405.3,691 Q408,672 412.3,659.4 Q418,648 426.9,642.3 Q434,637 444.7,634 Q458,629.6 473.9,627 Q488,624.8 499.3,624.5 L540,627.6 L578,636 Q592,639 603.5,644.2 Q614,650 621.2,658.2 Q628,667 631.4,678.5 Q635,690 636.5,703.9 L638.4,745 L639,770 L641.6,826" stroke="#2e2e2e" stroke-width="1.5" fill="none"/>
<path d="M408.6,781.6 L414.8,745 L418,691 Q420,678 424.4,668.3 Q428,660 435.8,655.6 Q446,651 461.2,648.6 Q484,645.6 512,644.8 L540,647.4 L578,657.5 Q592,661.6 603.5,667 Q611,671 614.9,678.5 Q619.6,688 621.2,703.9 L623.8,745 L625.4,806" stroke="#7d7d7d" stroke-width="0.9" fill="none"/>
<path d="M396.6,781.6 L400.2,745 L405.3,691 Q408,672 412.3,659.4 Q418,648 426.9,642.3 Q434,637 444.7,634" stroke="#333" stroke-width="1.9" fill="none"/>
<!-- second outline above arch top -->
<path d="M440,633.4 Q470,624 500,622.6 Q530,622.4 560,626" stroke="#555" stroke-width="0.8" fill="none"/>

<!-- pizza -->
<clipPath id="cPizza"><path d="M484,750 Q486,744.6 500,741.8 Q512,740 522,737.6 Q546,731.4 568.4,731.4 Q600,732.6 631.2,741.4 L631.2,773 Q600,777 557.9,775.6 Q530,773.6 514,769.5 Q492,763 486,756 Q483.6,753 484,750 Z"/></clipPath>
<g clip-path="url(#cPizza)">
<rect x="480" y="728" width="156" height="52" fill="url(#gCrust)"/>
<g filter="url(#fBlur2)">
<path d="M484,750 Q500,742 522,738 L544,752 Q520,759 498,757 Z" fill="#f0dba8"/>
<path d="M520,741 Q546,732 570,732.4 Q604,733.6 634,742.4 L634,755 Q600,758.4 566,757 Q540,755 520,741 Z" fill="#cf5636"/>
<path d="M560,737 Q580,733 602,738 Q606,745 590,748 Q570,747.6 560,737 Z" fill="#6a2a1f"/>
<path d="M600,738 q10,-2 22,3 q2,4 -6,5 q-12,-1 -16,-8 Z" fill="#8a3a26"/>
<path d="M518,742.6 q8,-5 18,-4 q2,3.4 -4,5.8 q-9,1.6 -14,-1.8 Z M603,745.6 q10,-2.4 22,1.6 q1,5 -8,5.6 q-11,-1 -14,-7.2 Z" fill="#5a8b3a"/>
<path d="M536,742 q8,-3 15,-0.4 q-2,4 -10,4 Z M578,749 q8,-1.4 12,1.6 q-6,3 -12,-1.6 Z" fill="#f4eee2"/>
<path d="M544,749 q12,-3.6 26,1 q-10,5.6 -26,-1 Z M596,752.6 q10,-3 20,0 q-8,4.4 -20,0 Z" fill="#e2442b"/>
<path d="M624,738 q8,1 10,6 l0,8 q-8,-2 -10,-10 Z" fill="#55281d"/>
<path d="M566,756 q20,2 40,0 q14,-1 26,-2 l0,5 q-30,4 -66,0 Z" fill="#e9c274"/>
</g>
<path d="M486,757 Q520,771 560,774.6 Q600,777 632,772" stroke="#a9713a" stroke-width="2.6" fill="none" opacity="0.55" filter="url(#fBlur2)"/>
<path d="M631,741 V773" stroke="#b8803f" stroke-width="1.2" opacity="0.5"/>
</g>

<!-- bottom rail -->
<path d="M395.8,781.6 L641,807.6 L642.4,826.2 L393.2,798 Z" fill="url(#gRail)"/>
<path d="M395.8,782 L641,808" stroke="#fbfbfb" stroke-width="1.2" fill="none"/>
<path d="M393.2,798 L642.4,826.2" stroke="#a5a5a5" stroke-width="1" fill="none"/>
<path d="M395.8,781.6 L393.2,798" stroke="#b4b4b4" stroke-width="0.9" fill="none"/>

<!-- screws -->
<g fill="#c9c9c9" stroke="#3f3f3f" stroke-width="1.1">
<circle cx="643.4" cy="738.6" r="1.9"/><circle cx="647" cy="815.6" r="1.9"/><circle cx="706.6" cy="811" r="1.9"/><circle cx="763.4" cy="805" r="1.9"/><circle cx="818.4" cy="799.6" r="1.9"/><circle cx="860.4" cy="794.8" r="1.9"/><circle cx="910.6" cy="789.8" r="1.9"/>
</g>

<path d="M799.4,732.3 C795.4,741 790,749 789.7,757 L790.4,771 Q791,778 797,778 L806.5,778 Q812.4,778 812.6,771 L811.9,757 Q811.6,752 809.1,749 L807.4,757.8 L807.2,768 Q807,770.4 804.6,770.4 L798,770.4 Q795.8,770.4 795.8,768 L795.8,757 C796,749 798.8,741 799.4,732.3 Z" fill="#c48e65"/>
<path d="M801.8,742.6 L805.6,748.4 L804.8,753.6 L802.6,756.4 L802.6,762.4 L799.6,762.4 L799.6,751 Z" fill="#c48e65"/>
<!-- logo -->
<g transform="translate(662.4 778.8) rotate(-4)">
<text x="0" y="0" font-size="32" fill="#474747" textLength="124" lengthAdjust="spacingAndGlyphs" stroke="#474747" stroke-width="0.9">PIZZELL</text>
<text x="2" y="10.4" font-size="4.2" fill="#3a3a3a" textLength="121" lengthAdjust="spacing">THE ARTISANS OF PIZZA</text>
</g>
</g>


<!-- ===== dimensions ===== -->
<g id="dims">
<path d="M950.0,181.7 L950.0,511.0 M950.0,539.0 L950.0,927.0" stroke="#0c0c0c" stroke-width="1.75" fill="none"/>
<path d="M950.0,176.7 L946.3,182.9 L953.7,182.9 Z" fill="#0c0c0c"/>
<path d="M950.0,932.0 L946.3,925.8 L953.7,925.8 Z" fill="#0c0c0c"/>
<text class="dim" font-size="17.4" transform="translate(896 532.1) rotate(0)" textLength="97.6" lengthAdjust="spacingAndGlyphs">31.5&quot;/80cm</text>
<path d="M352.3,631.7 L352.3,692.7 M352.3,715.3 L352.3,809.4" stroke="#0c0c0c" stroke-width="2.1" fill="none"/>
<path d="M352.3,626.7 L348.7,632.9 L355.9,632.9 Z" fill="#0c0c0c"/>
<path d="M352.3,814.4 L348.7,808.2 L355.9,808.2 Z" fill="#0c0c0c"/>
<path d="M355.6,631 H556" stroke="#1a1a1a" stroke-width="1.8" stroke-dasharray="4.2 2.24" fill="none"/>
<text class="dim" font-size="17.4" transform="translate(289.6 710.5) rotate(0)" textLength="104.2" lengthAdjust="spacingAndGlyphs">7.8&quot;/19.8cm</text>
<path d="M387.8,812.5 L636.4,847.0" stroke="#0c0c0c" stroke-width="1.4" fill="none"/>
<path d="M382.6,811.8 L388.7,816.1 L389.6,809.3 Z" fill="#0c0c0c"/>
<path d="M641.6,847.7 L634.6,850.2 L635.5,843.4 Z" fill="#0c0c0c"/>
<text class="dim" font-size="17.4" transform="translate(466.8 842.6) rotate(8.0)" textLength="98.6" lengthAdjust="spacingAndGlyphs">13.8&quot;/35cm</text>
<path d="M422.1,886.3 L630.0,927.9" stroke="#0c0c0c" stroke-width="1.4" fill="none"/>
<path d="M416.9,885.3 L422.7,889.9 L424.0,883.3 Z" fill="#0c0c0c"/>
<path d="M635.2,928.9 L628.1,930.9 L629.4,924.3 Z" fill="#0c0c0c"/>
<text class="dim" font-size="17.4" transform="translate(481.2 917.6) rotate(8.3)" textLength="97.6" lengthAdjust="spacingAndGlyphs">12.6&quot;/32cm</text>
<path d="M384.5,916.2 L653.6,963.8" stroke="#0c0c0c" stroke-width="1.4" fill="none"/>
<path d="M379.3,915.3 L385.2,919.8 L386.4,913.1 Z" fill="#0c0c0c"/>
<path d="M658.8,964.7 L651.7,966.9 L652.9,960.2 Z" fill="#0c0c0c"/>
<text class="dim" font-size="17.4" transform="translate(469.4 955) rotate(7.7)" textLength="98.6" lengthAdjust="spacingAndGlyphs">15.7&quot;/40cm</text>
<path d="M651.2,845.9 L912.7,812.5" stroke="#0c0c0c" stroke-width="1.4" fill="none"/>
<path d="M646.0,846.6 L653.0,849.1 L652.1,842.4 Z" fill="#0c0c0c"/>
<path d="M917.9,811.8 L911.8,816.0 L910.9,809.3 Z" fill="#0c0c0c"/>
<text class="dim" font-size="17.4" transform="translate(737 856.6) rotate(-8.4)" textLength="97.3" lengthAdjust="spacingAndGlyphs">19.3&quot;/49cm</text>
<path d="M675.8,920.0 L890.5,880.2" stroke="#0c0c0c" stroke-width="1.4" fill="none"/>
<path d="M670.6,921.0 L677.7,923.1 L676.5,916.5 Z" fill="#0c0c0c"/>
<path d="M895.7,879.2 L889.8,883.7 L888.6,877.1 Z" fill="#0c0c0c"/>
<text class="dim" font-size="17.4" transform="translate(748.4 924) rotate(-8.3)" textLength="97.6" lengthAdjust="spacingAndGlyphs">15.4&quot;/39cm</text>
<path d="M665.2,962.1 L927.1,908.3" stroke="#0c0c0c" stroke-width="1.4" fill="none"/>
<path d="M660.0,963.2 L667.1,965.2 L665.8,958.5 Z" fill="#0c0c0c"/>
<path d="M932.3,907.2 L926.5,911.9 L925.2,905.2 Z" fill="#0c0c0c"/>
<text class="dim" font-size="17.4" transform="translate(774.2 959.4) rotate(-8.3)" textLength="97.6" lengthAdjust="spacingAndGlyphs">18.9&quot;/48cm</text>
<path d="M443.3,762.7 L563.7,739.6" stroke="#0c0c0c" stroke-width="1.4" fill="none"/>
<path d="M438.3,763.7 L445.2,765.6 L444.0,759.3 Z" fill="#0c0c0c"/>
<path d="M568.7,738.6 L563.0,743.0 L561.8,736.7 Z" fill="#0c0c0c"/>
<text class="dim" font-size="17.4" transform="translate(464.4 775) rotate(-9.6)" textLength="96.8" lengthAdjust="spacingAndGlyphs">12&quot;/30.5cm</text>
<path d="M428.0,781.8 L624.3,807.0" stroke="#0c0c0c" stroke-width="1.2" fill="none"/>
<path d="M423.4,781.2 L428.7,785.2 L429.6,778.7 Z" fill="#0c0c0c"/>
<path d="M628.9,807.6 L622.7,810.1 L623.6,803.6 Z" fill="#0c0c0c"/>
<text class="dim" font-size="17.4" transform="translate(496.6 807.8) rotate(7.5)" textLength="97" lengthAdjust="spacingAndGlyphs">12&quot;/30.5cm</text>
</g>
</svg>
</body></html>
